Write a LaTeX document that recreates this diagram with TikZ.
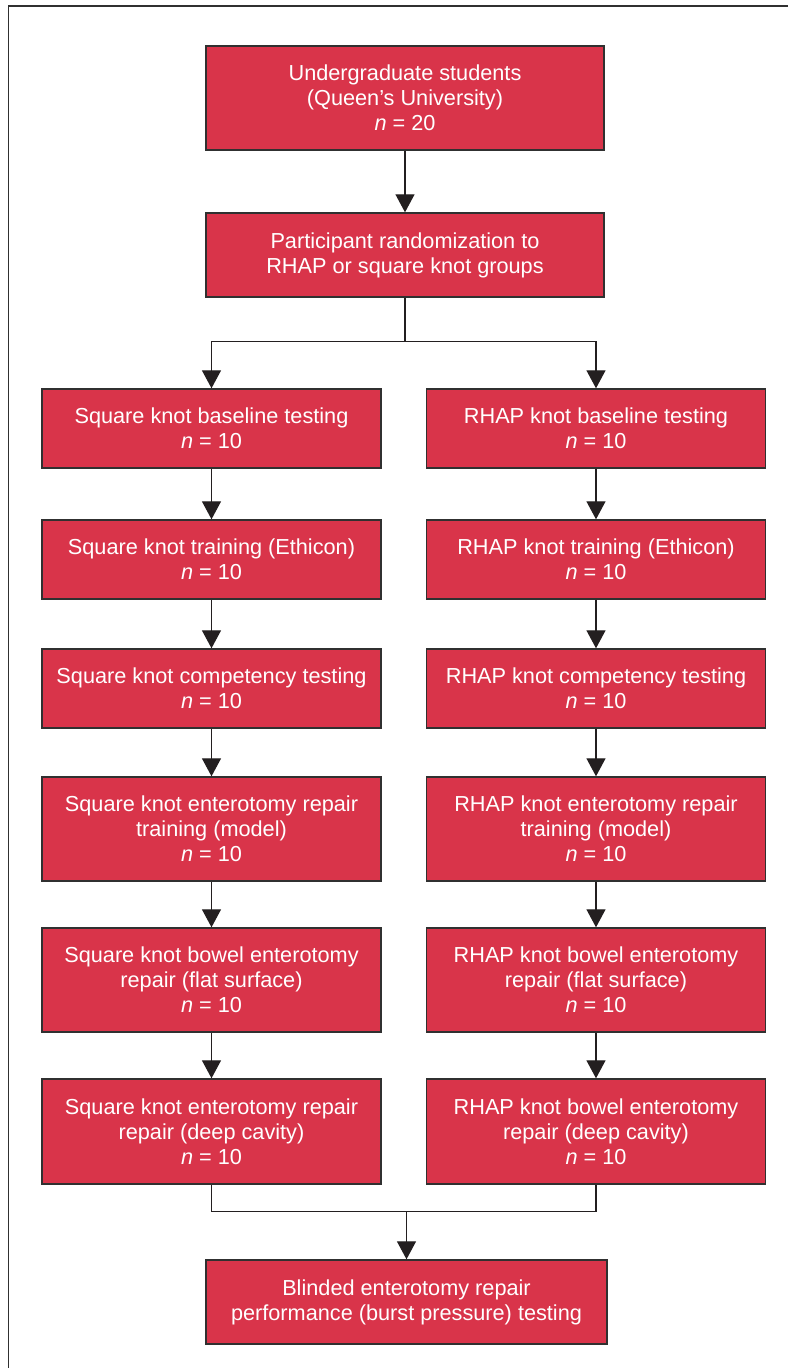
\documentclass[tikz,border=0pt]{standalone}
\usepackage{fontspec}
\setmainfont{Liberation Sans}
\usetikzlibrary{arrows.meta}

\definecolor{boxred}{HTML}{D9344A}
\definecolor{edgegray}{HTML}{303030}
\definecolor{flowblack}{HTML}{231F20}

\begin{document}
\begin{tikzpicture}[x=1pt, y=-1pt]

        % Styles of the boxes and of the arrows between them
        \tikzset{
            box/.style={draw=edgegray, line width=1.4pt, fill=boxred,
                text=white, align=center, inner sep=0pt,
                font=\fontsize{21.7}{25}\selectfont},
            widebox/.style={box, minimum width=398pt},
            colbox/.style={box, minimum width=339pt},
            flow/.style={flowblack, line width=1.3pt,
                -{Triangle[width=19pt, length=18pt]}},
            plain/.style={flowblack, line width=1.3pt}
        }

        \useasboundingbox (0, 0) rectangle (788, 1368);

        % Frame round the figure, cut at right and bottom
        \draw[edgegray, line width=1.3pt] (788, 6) -- (8.5, 6) -- (8.5, 1368);

        % Centres of the boxes, top to bottom
        \coordinate (U) at (405, 98);
        \coordinate (P) at (405, 255);

        \coordinate (L1) at (211.5, 428.5);
        \coordinate (L2) at (211.5, 559.5);
        \coordinate (L3) at (211.5, 688.5);
        \coordinate (L4) at (211.5, 829);
        \coordinate (L5) at (211.5, 980);
        \coordinate (L6) at (211.5, 1131.5);

        \coordinate (R1) at (596, 428.5);
        \coordinate (R2) at (596, 559.5);
        \coordinate (R3) at (596, 688.5);
        \coordinate (R4) at (596, 829);
        \coordinate (R5) at (596, 980);
        \coordinate (R6) at (596, 1131.5);

        \coordinate (F) at (406.5, 1302);

        \node (top) at (U)[widebox, minimum height=104pt]
            {Undergraduate students\\(Queen’s University)\\\textit{n} = 20};
        \node (rand) at (P)[widebox, minimum height=84pt]
            {Participant randomization to\\RHAP or square knot groups};

        % Square knot column
        \node (S1) at (L1)[colbox, minimum height=79pt]
            {Square knot baseline testing\\\textit{n} = 10};
        \node (S2) at (L2)[colbox, minimum height=79pt]
            {Square knot training (Ethicon)\\\textit{n} = 10};
        \node (S3) at (L3)[colbox, minimum height=79pt]
            {Square knot competency testing\\\textit{n} = 10};
        \node (S4) at (L4)[colbox, minimum height=104pt]
            {Square knot enterotomy repair\\training (model)\\\textit{n} = 10};
        \node (S5) at (L5)[colbox, minimum height=104pt]
            {Square knot bowel enterotomy\\repair (flat surface)\\\textit{n} = 10};
        \node (S6) at (L6)[colbox, minimum height=105pt]
            {Square knot enterotomy repair\\repair (deep cavity)\\\textit{n} = 10};

        % RHAP knot column
        \node (H1) at (R1)[colbox, minimum height=79pt]
            {RHAP knot baseline testing\\\textit{n} = 10};
        \node (H2) at (R2)[colbox, minimum height=79pt]
            {RHAP knot training (Ethicon)\\\textit{n} = 10};
        \node (H3) at (R3)[colbox, minimum height=79pt]
            {RHAP knot competency testing\\\textit{n} = 10};
        \node (H4) at (R4)[colbox, minimum height=104pt]
            {RHAP knot enterotomy repair\\training (model)\\\textit{n} = 10};
        \node (H5) at (R5)[colbox, minimum height=104pt]
            {RHAP knot bowel enterotomy\\repair (flat surface)\\\textit{n} = 10};
        \node (H6) at (R6)[colbox, minimum height=105pt]
            {RHAP knot bowel enterotomy\\repair (deep cavity)\\\textit{n} = 10};

        \node (final) at (F)[box, minimum width=401pt, minimum height=84pt]
            {Blinded enterotomy repair\\performance (burst pressure) testing};

        % Split after randomization and merge before the last box
        \path (rand.south) -- ++(0, 44) coordinate (split);
        \path (final.north) -- ++(0, -48) coordinate (merge);

        \draw[flow] (top) -- (rand);
        \draw[plain] (rand.south) -- (split);
        \draw[flow] (split) -| (S1.north);
        \draw[flow] (split) -| (H1.north);

        \draw[flow] (S1) -- (S2);
        \draw[flow] (S2) -- (S3);
        \draw[flow] (S3) -- (S4);
        \draw[flow] (S4) -- (S5);
        \draw[flow] (S5) -- (S6);

        \draw[flow] (H1) -- (H2);
        \draw[flow] (H2) -- (H3);
        \draw[flow] (H3) -- (H4);
        \draw[flow] (H4) -- (H5);
        \draw[flow] (H5) -- (H6);

        \draw[plain] (S6.south) |- (merge) -| (H6.south);
        \draw[flow] (merge) -- (final.north);

\end{tikzpicture}
\end{document}
